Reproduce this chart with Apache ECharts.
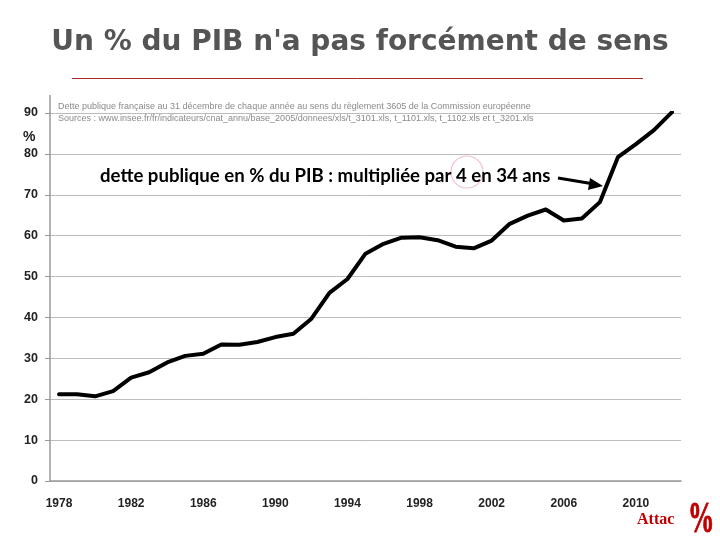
<!DOCTYPE html>
<html><head><meta charset="utf-8">
<script src="https://cdn.jsdelivr.net/npm/echarts@6/dist/echarts.min.js"></script>
<style>html,body{margin:0;padding:0;background:#fff}#c{width:720px;height:540px}</style>
</head><body><div id="c"></div>
<script>
const years = ["1978","1979","1980","1981","1982","1983","1984","1985","1986","1987","1988","1989","1990","1991","1992","1993","1994","1995","1996","1997","1998","1999","2000","2001","2002","2003","2004","2005","2006","2007","2008","2009","2010","2011","2012"];
const debtPct = [21.2,21.2,20.7,22.0,25.3,26.6,29.0,30.6,31.1,33.4,33.3,34.0,35.2,36.0,39.7,46.0,49.4,55.6,58.0,59.5,59.6,58.9,57.3,56.9,58.8,62.9,64.9,66.4,63.7,64.2,68.2,79.2,82.4,85.8,90.2];
const yTicks = {min:0, max:90, interval:10};
const titleText = "Un % du PIB n'a pas forcément de sens";
const noteLines = ["Dette publique française au 31 décembre de chaque année au sens du règlement 3605 de la Commission européenne",
  "Sources : www.insee.fr/fr/indicateurs/cnat_annu/base_2005/donnees/xls/t_3101.xls, t_1101.xls, t_1102.xls et t_3201.xls"];
const annotation = "dette publique en % du PIB : multipliée par 4 en 34 ans";

const chart = echarts.init(document.getElementById('c'));
chart.setOption({
  animation:false,
  backgroundColor:'#fff',
  title:{text:titleText,left:'center',top:24,textStyle:{fontFamily:'DejaVu Sans',fontWeight:'bold',fontSize:28,color:'#555'}},
  grid:{left:50,right:39,top:113,bottom:59},
  xAxis:{type:'category',data:years,boundaryGap:true,
    axisLine:{lineStyle:{color:'#999',width:1.5}},
    axisTick:{interval:1,length:5,lineStyle:{color:'#999'}},
    axisLabel:{interval:3,margin:17,color:'#222',fontWeight:'bold',fontSize:12,fontFamily:'Liberation Sans'}},
  yAxis:{type:'value',min:yTicks.min,max:yTicks.max,interval:yTicks.interval,
    axisLine:{show:true,lineStyle:{color:'#999',width:1.5}},
    axisTick:{show:true,length:5,lineStyle:{color:'#999'}},
    splitLine:{lineStyle:{color:'#bcbcbc',width:1}},
    axisLabel:{margin:12,color:'#222',fontWeight:'bold',fontSize:12.5,fontFamily:'Liberation Sans'}},
  series:[{type:'line',data:debtPct,showSymbol:false,symbol:'none',
    lineStyle:{color:'#000',width:4,cap:'round',join:'round'}}],
  graphic:[
    {type:'line',shape:{x1:72,y1:78.5,x2:643,y2:78.5},style:{stroke:'#a82828',lineWidth:1}},
    {type:'line',shape:{x1:50,y1:95,x2:50,y2:113},style:{stroke:'#999',lineWidth:1.5}},
    {type:'text',x:58,y:102,style:{text:noteLines[0],fontSize:9,fontFamily:'Liberation Sans',fill:'#8a8a8a'}},
    {type:'text',x:58,y:114,style:{text:noteLines[1],fontSize:9,fontFamily:'Liberation Sans',fill:'#8a8a8a'}},
    {type:'text',x:23,y:130,style:{text:'%',fontSize:14,fontWeight:'bold',fontFamily:'Liberation Sans',fill:'#222'}},
    {type:'circle',shape:{cx:467,cy:172,r:16},style:{fill:'none',stroke:'#f0c0d4',lineWidth:1.2}},
    {type:'text',x:100,y:176,style:{text:annotation,fontSize:18.6,fontWeight:'bold',fontFamily:'Lato',fill:'#000',verticalAlign:'middle'}},
    {type:'line',shape:{x1:558,y1:178,x2:594,y2:184},style:{stroke:'#000',lineWidth:3}},
    {type:'polygon',shape:{points:[[603,186],[590,178],[588,190]]},style:{fill:'#000'}},
    {type:'text',x:637,y:512,style:{text:'Attac',fontSize:16,fontWeight:'bold',fontFamily:'Liberation Serif',fill:'#c00000'}},
    {type:'text',x:688,y:499,scaleX:0.6,style:{text:'%',fontSize:44,fontWeight:'bold',fontFamily:'Liberation Serif',fill:'#c00000',stroke:'#c00000',lineWidth:1}}
  ]
});
</script></body></html>
